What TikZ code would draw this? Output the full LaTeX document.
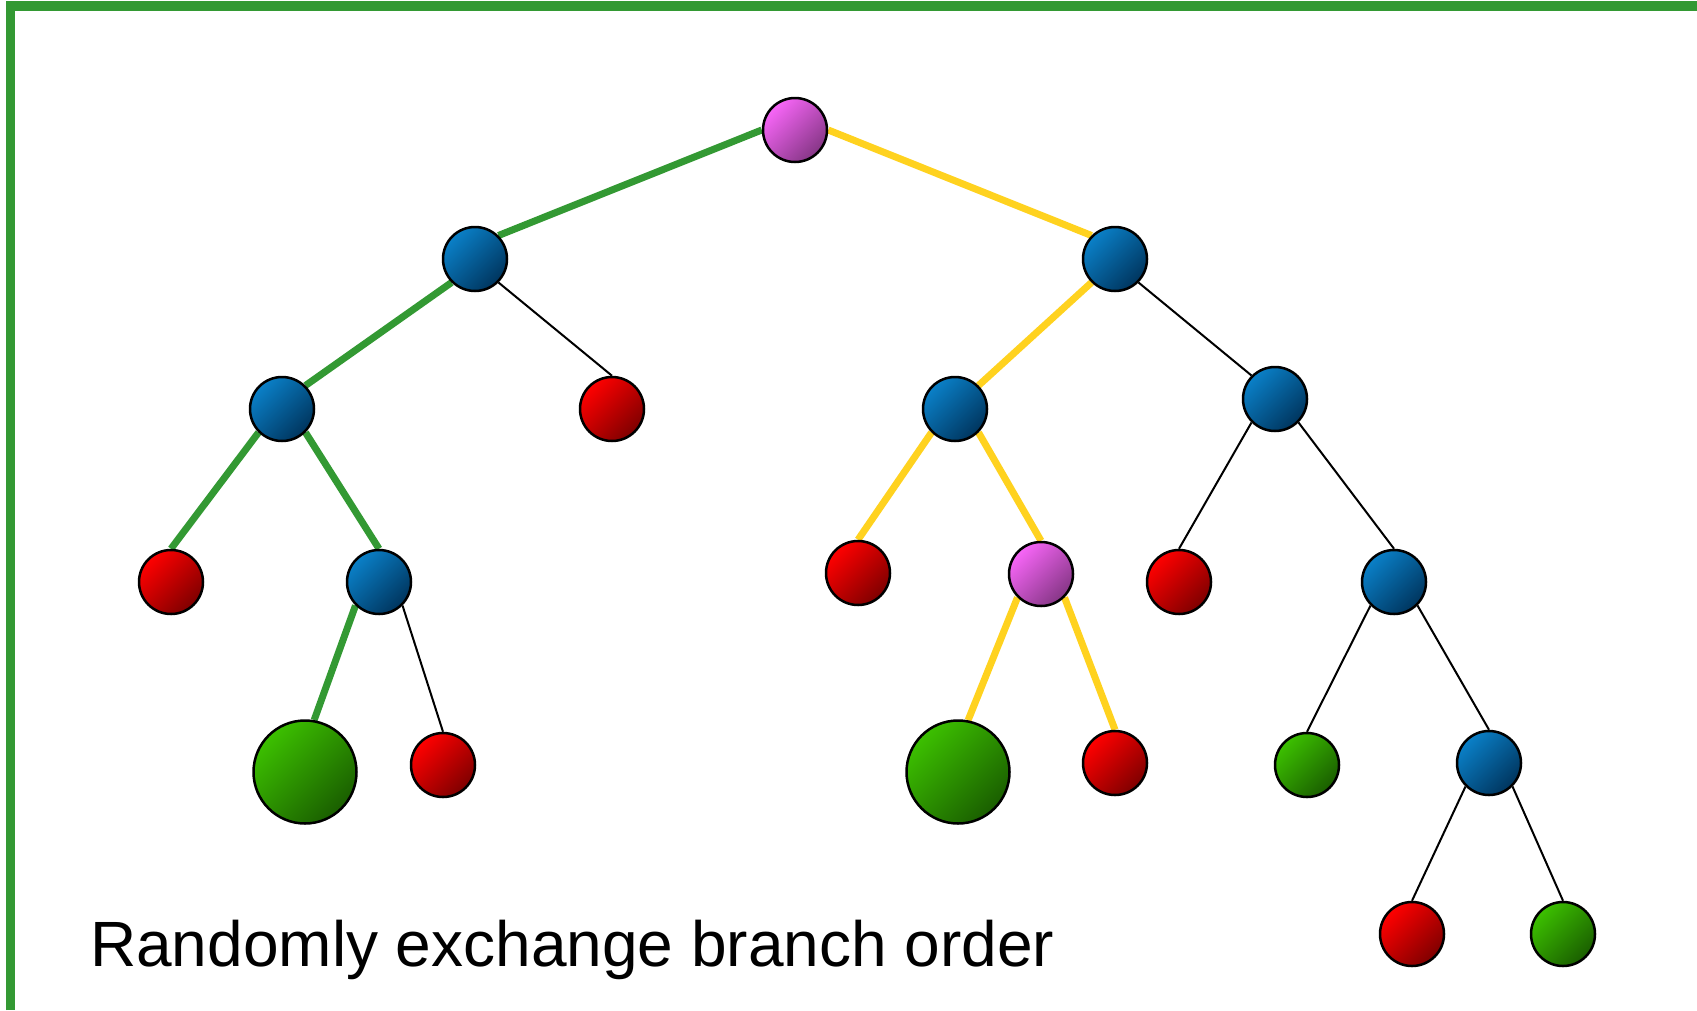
\documentclass[tikz,border=0pt]{standalone}
\usepackage{fontspec}
\setmainfont{Liberation Sans}
\usetikzlibrary{backgrounds}
\definecolor{framegreen}{HTML}{339933}
\definecolor{edgegreen}{HTML}{339933}
\definecolor{edgeyellow}{HTML}{FFD21F}
\definecolor{bluelight}{HTML}{0A80C8}
\definecolor{bluedark}{HTML}{00355E}
\definecolor{pinklight}{HTML}{F866F8}
\definecolor{pinkdark}{HTML}{853685}
\definecolor{redlight}{HTML}{FF0000}
\definecolor{reddark}{HTML}{7F0000}
\definecolor{greenlight}{HTML}{3CC000}
\definecolor{greendark}{HTML}{1A5E00}
\tikzset{
  ball/.style={circle, draw=black, line width=2.5pt, inner sep=0pt, minimum size=64pt},
  bluenode/.style={ball, top color=bluelight, bottom color=bluedark, shading angle=45},
  pinknode/.style={ball, top color=pinklight, bottom color=pinkdark, shading angle=45},
  rednode/.style={ball, top color=redlight, bottom color=reddark, shading angle=45},
  greennode/.style={ball, top color=greenlight, bottom color=greendark, shading angle=45},
  biggreen/.style={greennode, minimum size=103pt},
  gedge/.style={draw=edgegreen, line width=7pt},
  yedge/.style={draw=edgeyellow, line width=7pt},
  kedge/.style={draw=black, line width=2pt},
}
\begin{document}
\begin{tikzpicture}[x=1pt,y=-1pt]
\useasboundingbox (0,0) rectangle (1697,1010);

% nodes
\node[pinknode] (root) at (795,130) {};
\node[bluenode] (a) at (475,259) {};
\node[bluenode] (b) at (1115,259) {};
\node[bluenode] (a1) at (282,409) {};
\node[rednode] (a2) at (612,409) {};
\node[bluenode] (b1) at (955,409) {};
\node[bluenode] (b2) at (1275,399) {};
\node[rednode] (a11) at (171,582) {};
\node[bluenode] (a12) at (379,582) {};
\node[rednode] (b11) at (858,573) {};
\node[pinknode] (b12) at (1041,574) {};
\node[rednode] (b21) at (1179,582) {};
\node[bluenode] (b22) at (1394,582) {};
\node[biggreen] (a121) at (305,772) {};
\node[rednode] (a122) at (443,765) {};
\node[biggreen] (b121) at (958,772) {};
\node[rednode] (b122) at (1115,763) {};
\node[greennode] (b221) at (1307,765) {};
\node[bluenode] (b222) at (1489,763) {};
\node[rednode] (b2221) at (1412,934) {};
\node[greennode] (b2222) at (1563,934) {};

\node[anchor=base west, inner sep=0pt, font=\fontsize{64}{77}\selectfont] (caption) at (90,966) {Randomly exchange branch order};

\begin{pgfonlayer}{background}
\fill[white] (0,0) rectangle (1697,1010);
\draw[framegreen, line width=9.6pt] (10.6,1010) -- (10.6,6.2) -- (1697,6.2);
\path[gedge] (root.west) -- (a.north east);
\path[gedge] (a.south west) -- (a1.north east);
\path[kedge] (a.south east) -- (a2.north);
\path[gedge] (a1.south west) -- (a11.north);
\path[gedge] (a1.south east) -- (a12.north);
\path[gedge] (a12.south west) -- (a121.80);
\path[kedge] (a12.south east) -- (a122.north);
\path[yedge] (root.east) -- (b.north west);
\path[yedge] (b.south west) -- (b1.north east);
\path[kedge] (b.south east) -- (b2.north west);
\path[yedge] (b1.south west) -- (b11.north);
\path[yedge] (b1.south east) -- (b12.north);
\path[yedge] (b12.south west) -- (b121.79);
\path[yedge] (b12.south east) -- (b122.north);
\path[kedge] (b2.south west) -- (b21.north);
\path[kedge] (b2.south east) -- (b22.north);
\path[kedge] (b22.south west) -- (b221.north);
\path[kedge] (b22.south east) -- (b222.north);
\path[kedge] (b222.south west) -- (b2221.north);
\path[kedge] (b222.south east) -- (b2222.north);
\end{pgfonlayer}
\end{tikzpicture}
\end{document}
